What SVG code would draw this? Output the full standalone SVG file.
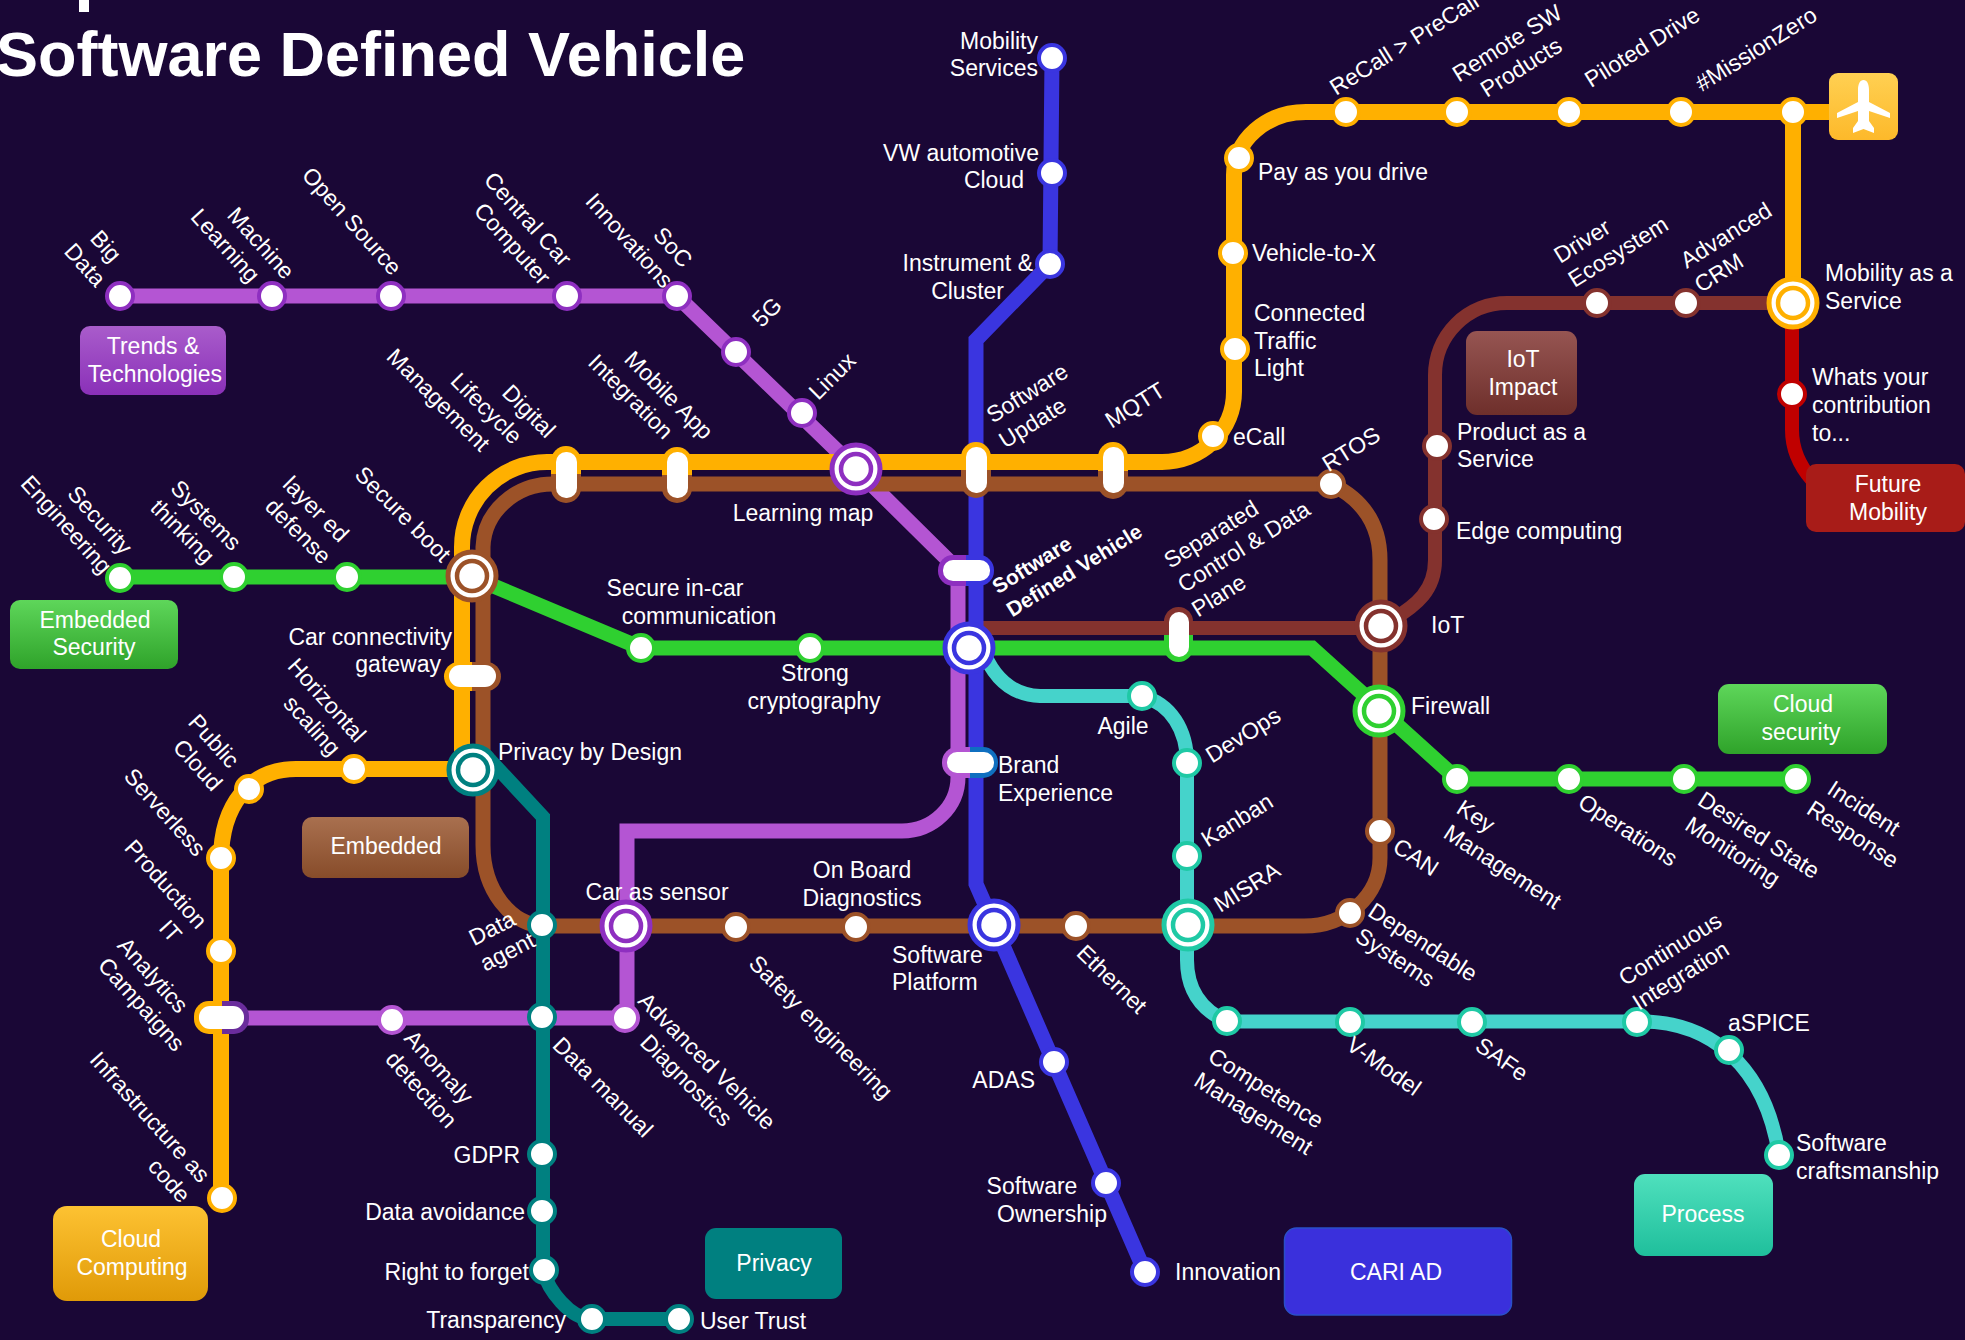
<svg xmlns="http://www.w3.org/2000/svg" width="1965" height="1340" viewBox="0 0 1965 1340">
<style>
text{font-family:"Liberation Sans",Arial,sans-serif;font-size:23px;fill:#fff}
.m{text-anchor:middle}.e{text-anchor:end}
.title{font-size:63px;font-weight:700}
.b{font-weight:700;font-size:21px}
.ln{fill:none;stroke-linejoin:miter}
.s{fill:#fff;stroke-width:4}
.o1{stroke-width:5;fill:#fff}.o2{stroke-width:4.5;fill:#fff}
.w{fill:#fff}
.pur{stroke:#8e2fc0}.pl{stroke:#b455d3}.blu{stroke:#3a35e0}.ora{stroke:#ffb000}.bro{stroke:#9c5228}.dbr{stroke:#84322e}.gre{stroke:#2fd030}.tea{stroke:#008080}.tur{stroke:#1fc9a5}.red{stroke:#c00000}.tl{stroke:#45d3cb}
</style>
<defs>
<linearGradient id="gPur" x1="0" y1="0" x2="0" y2="1"><stop offset="0" stop-color="#a95ccb"/><stop offset="1" stop-color="#8a30b8"/></linearGradient>
<linearGradient id="gGre" x1="0" y1="0" x2="0" y2="1"><stop offset="0" stop-color="#5ed65a"/><stop offset="1" stop-color="#2fa32a"/></linearGradient>
<linearGradient id="gBro" x1="0" y1="0" x2="0" y2="1"><stop offset="0" stop-color="#a9704f"/><stop offset="1" stop-color="#874c2a"/></linearGradient>
<linearGradient id="gOra" x1="0" y1="0" x2="0" y2="1"><stop offset="0" stop-color="#fdc232"/><stop offset="1" stop-color="#e09a08"/></linearGradient>
<linearGradient id="gTur" x1="0" y1="0" x2="0" y2="1"><stop offset="0" stop-color="#4fe0bd"/><stop offset="1" stop-color="#1fbf9c"/></linearGradient>
<linearGradient id="gDbr" x1="0" y1="0" x2="0" y2="1"><stop offset="0" stop-color="#965552"/><stop offset="1" stop-color="#6e2f2b"/></linearGradient>
<linearGradient id="gPla" x1="0" y1="0" x2="0" y2="1"><stop offset="0" stop-color="#ffd052"/><stop offset="1" stop-color="#fdb92a"/></linearGradient>
<linearGradient id="pOB" x1="0" y1="0" x2="0" y2="1"><stop offset=".5" stop-color="#ffb000"/><stop offset=".5" stop-color="#9c5228"/></linearGradient>
<linearGradient id="pDG" x1="0" y1="0" x2="0" y2="1"><stop offset=".5" stop-color="#84322e"/><stop offset=".5" stop-color="#2fd030"/></linearGradient>
<linearGradient id="pPB" x1="0" y1="0" x2="1" y2="0"><stop offset=".5" stop-color="#8e2fc0"/><stop offset=".5" stop-color="#3a35e0"/></linearGradient>
<linearGradient id="pLB" x1="0" y1="0" x2="1" y2="0"><stop offset=".5" stop-color="#b455d3"/><stop offset=".5" stop-color="#0f6fc0"/></linearGradient>
<linearGradient id="pHB" x1="0" y1="0" x2="1" y2="0"><stop offset=".5" stop-color="#ffb000"/><stop offset=".5" stop-color="#9c5228"/></linearGradient>
<linearGradient id="pHP" x1="0" y1="0" x2="1" y2="0"><stop offset=".5" stop-color="#ffb000"/><stop offset=".5" stop-color="#6a2c9c"/></linearGradient>
</defs>
<rect width="1965" height="1340" fill="#1a0736"/>
<rect x="79" y="0" width="10" height="12" fill="#fff"/>
<text class="title" x="-4" y="76">Software Defined Vehicle</text>

<g id="connectors">
<path class="ln tea" stroke-width="14" d="M490,760L543,817V1270C548,1290 570,1319 592,1319H679"/>
<path class="ln red" stroke-width="14" d="M1792,303V430C1792,450 1799,465 1812,480"/>
<path class="ln dbr" stroke-width="14" d="M1793,303H1507A72 72 0 0 0 1435,375V560C1435,590 1417,605 1392,620"/>
<path class="ln dbr" stroke-width="14" d="M1381,628H975"/>
<path class="ln pl" stroke-width="15" d="M120,296H677L856,469L958,570V777A56 54 0 0 1 902,831H627V1018H222"/>
<path class="ln blu" stroke-width="15" d="M1052,58L1050,264L976,340V884L994,925L1145,1272"/>
<path class="ln bro" stroke-width="15" d="M1331,484H553A70 65 0 0 0 483,547V845A62 81 0 0 0 545,926H1304A76 68 0 0 0 1380,858V560C1380,525 1364,500 1331,484"/>
<path class="ln tl" stroke-width="14" d="M982,648C992,675 1010,695 1040,696H1142C1171,704 1187,730 1187,763V960C1187,990 1201,1010 1227,1021.5H1642C1710,1022 1765,1065 1779,1155"/>
<path class="ln ora" stroke-width="16" d="M462,770V547A85 85 0 0 1 547,462H1162A72 70 0 0 0 1234,392V175A72 63 0 0 1 1306,112H1829"/>
<path class="ln ora" stroke-width="16" d="M1793,112V302"/>
<path class="ln ora" stroke-width="16" d="M473,769H296C250,769 221,805 221,860V1198"/>
<path class="ln gre" stroke-width="15" d="M120,577H472L641,648H1312L1457,779H1796"/>
</g>

<g id="box-trends"><rect x="80" y="326" width="146" height="69" rx="10" fill="url(#gPur)"/><text class="m" x="153" y="354">Trends &amp;</text><text class="m" x="155" y="382">Technologies</text></g>
<g id="box-embedded-security"><rect x="10" y="600" width="168" height="69" rx="10" fill="url(#gGre)"/><text class="m" x="95" y="628">Embedded</text><text class="m" x="94" y="655">Security</text></g>
<g id="box-embedded"><rect x="302" y="817" width="167" height="61" rx="10" fill="url(#gBro)"/><text class="m" x="386" y="854">Embedded</text></g>
<g id="box-cloud-computing"><rect x="53" y="1206" width="155" height="95" rx="14" fill="url(#gOra)"/><text class="m" x="131" y="1247">Cloud</text><text class="m" x="132" y="1275">Computing</text></g>
<g id="box-privacy"><rect x="705" y="1228" width="137" height="71" rx="11" fill="#008080"/><text class="m" x="774" y="1271">Privacy</text></g>
<g id="box-cari-ad"><rect x="1284.5" y="1228" width="227" height="87" rx="12" fill="#3a30dc" stroke="#2a4fc8" stroke-width="1.5"/><text class="m" x="1396" y="1280">CARI AD</text></g>
<g id="box-process"><rect x="1634" y="1174" width="139" height="82" rx="11" fill="url(#gTur)"/><text class="m" x="1703" y="1222">Process</text></g>
<g id="box-cloud-security"><rect x="1718" y="684" width="169" height="70" rx="11" fill="url(#gGre)"/><text class="m" x="1803" y="712">Cloud</text><text class="m" x="1801" y="740">security</text></g>
<g id="box-iot-impact"><rect x="1466" y="331" width="111" height="84" rx="11" fill="url(#gDbr)"/><text class="m" x="1523" y="367">IoT</text><text class="m" x="1523" y="395">Impact</text></g>
<g id="box-future-mobility"><rect x="1806" y="464" width="159" height="68" rx="10" fill="#a81c18"/><text class="m" x="1888" y="492">Future</text><text class="m" x="1888" y="520">Mobility</text></g>
<g id="box-plane"><rect x="1829" y="73" width="69" height="67" rx="9" fill="url(#gPla)"/><path class="w" d="M1863.5,80C1867,80 1869,84 1869,90V102L1890,113V118L1869,111V121L1874,128V133L1863.5,129L1853,133V128L1858,121V111L1837,118V113L1858,102V90C1858,84 1860,80 1863.5,80Z"/></g>

<g id="n-big-data"><circle class="s pur" cx="120" cy="296" r="13"/><text class="m" transform="translate(106,246) rotate(48)"><tspan x="0" y="8">Big</tspan><tspan x="0" y="36">Data</tspan></text></g>
<g id="n-machine-learning"><circle class="s pur" cx="272" cy="296" r="13"/><text class="m" transform="translate(261,243) rotate(48)"><tspan x="0" y="8">Machine</tspan><tspan x="-22" y="36">Learning</tspan></text></g>
<g id="n-open-source"><circle class="s pur" cx="391" cy="296" r="13"/><text class="m" transform="translate(352,221) rotate(48)" y="8">Open Source</text></g>
<g id="n-central-car"><circle class="s pur" cx="567" cy="296" r="13"/><text class="m" transform="translate(528,219) rotate(48)"><tspan x="0" y="8">Central Car</tspan><tspan x="8" y="36">Computer</tspan></text></g>
<g id="n-soc"><circle class="s pur" cx="677" cy="296" r="13"/><text class="m" transform="translate(673,247) rotate(48)"><tspan x="0" y="8">SoC</tspan><tspan x="-34" y="36">Innovations</tspan></text></g>
<g id="n-5g"><circle class="s pur" cx="736" cy="352" r="13"/><text class="m" transform="translate(767,312) rotate(-45)" y="8">5G</text></g>
<g id="n-linux"><circle class="s pur" cx="802" cy="413" r="13"/><text class="m" transform="translate(832,376) rotate(-45)" y="8">Linux</text></g>
<g id="n-learning-map"><circle class="o1 pur" cx="856" cy="469" r="24"/><circle class="o2 pur" cx="856" cy="469" r="15"/><text class="m" x="803" y="521">Learning map</text></g>

<g id="n-digital"><rect x="551" y="446" width="30" height="57" rx="15" fill="url(#pOB)"/><rect class="w" x="556" y="452" width="21" height="46" rx="10"/><text class="m" transform="translate(529,411) rotate(45)"><tspan x="0" y="8">Digital</tspan><tspan x="-32" y="36">Lifecycle</tspan><tspan x="-72" y="64">Management</tspan></text></g>
<g id="n-mobile-app"><rect x="662" y="447" width="30" height="56" rx="15" fill="url(#pOB)"/><rect class="w" x="667" y="452" width="21" height="46" rx="10"/><text class="m" transform="translate(669,395) rotate(45)"><tspan x="0" y="8">Mobile App</tspan><tspan x="-26" y="36">Integration</tspan></text></g>
<g id="n-software-update"><rect x="961" y="442" width="30" height="56" rx="15" fill="url(#pOB)"/><rect class="w" x="966" y="447" width="21" height="46" rx="10"/><text class="m" transform="translate(1027,393) rotate(-32)"><tspan x="0" y="8">Software</tspan><tspan x="-11" y="36">Update</tspan></text></g>
<g id="n-mqtt"><rect x="1098" y="442" width="30" height="57" rx="15" fill="url(#pOB)"/><rect class="w" x="1103" y="447" width="21" height="46" rx="10"/><text class="m" transform="translate(1135,405) rotate(-32)" y="8">MQTT</text></g>
<g id="n-ecall"><circle class="s ora" cx="1213" cy="436" r="13"/><text x="1233" y="445">eCall</text></g>
<g id="n-traffic-light"><circle class="s ora" cx="1235" cy="349" r="13"/><text><tspan x="1254" y="321">Connected</tspan><tspan x="1254" y="349">Traffic</tspan><tspan x="1254" y="376">Light</tspan></text></g>
<g id="n-v2x"><circle class="s ora" cx="1233" cy="253" r="13"/><text x="1252" y="261">Vehicle-to-X</text></g>
<g id="n-payg"><circle class="s ora" cx="1239" cy="158" r="13"/><text x="1258" y="180">Pay as you drive</text></g>
<g id="n-recall"><circle class="s ora" cx="1346" cy="112" r="13"/><text class="m" transform="translate(1404,44) rotate(-32)" y="8">ReCall &gt; PreCall</text></g>
<g id="n-remote-sw"><circle class="s ora" cx="1457" cy="112" r="13"/><text class="m" transform="translate(1507,43) rotate(-32)"><tspan x="0" y="8">Remote SW</tspan><tspan x="-1" y="36">Products</tspan></text></g>
<g id="n-piloted"><circle class="s ora" cx="1569" cy="112" r="13"/><text class="m" transform="translate(1642,47) rotate(-32)" y="8">Piloted Drive</text></g>
<g id="n-missionzero"><circle class="s ora" cx="1681" cy="112" r="13"/><text class="m" transform="translate(1756,49) rotate(-32)" y="8">#MissionZero</text></g>
<g id="n-plane-stop"><circle class="s ora" cx="1793" cy="112" r="13"/></g>
<g id="n-maas"><circle class="o1 ora" cx="1793" cy="303" r="24"/><circle class="o2 ora" cx="1793" cy="303" r="15"/><text><tspan x="1825" y="281">Mobility as a</tspan><tspan x="1825" y="309">Service</tspan></text></g>
<g id="n-whats-your"><circle class="s red" cx="1792" cy="394" r="13"/><text><tspan x="1812" y="385">Whats your</tspan><tspan x="1812" y="413">contribution</tspan><tspan x="1812" y="441">to...</tspan></text></g>
<g id="n-driver-eco"><circle class="s dbr" cx="1597" cy="303" r="13"/><text class="m" transform="translate(1582,241) rotate(-32)"><tspan x="0" y="8">Driver</tspan><tspan x="25" y="36">Ecosystem</tspan></text></g>
<g id="n-adv-crm"><circle class="s dbr" cx="1686" cy="303" r="13"/><text class="m" transform="translate(1726,235) rotate(-32)"><tspan x="0" y="8">Advanced</tspan><tspan x="-26" y="36">CRM</tspan></text></g>
<g id="n-paas"><circle class="s dbr" cx="1437" cy="446" r="13"/><text><tspan x="1457" y="440">Product as a</tspan><tspan x="1457" y="467">Service</tspan></text></g>
<g id="n-edge"><circle class="s dbr" cx="1434" cy="519" r="13"/><text x="1456" y="539">Edge computing</text></g>
<g id="n-rtos"><circle class="s bro" cx="1331" cy="484" r="13"/><text class="m" transform="translate(1351,449) rotate(-32)" y="8">RTOS</text></g>
<g id="n-separated"><rect x="1164" y="607" width="29" height="55" rx="14.5" fill="url(#pDG)"/><rect class="w" x="1169" y="612" width="20" height="45" rx="10"/><text class="m" transform="translate(1211,534) rotate(-32)"><tspan x="0" y="8">Separated</tspan><tspan x="21" y="36">Control &amp; Data</tspan><tspan x="-26" y="64">Plane</tspan></text></g>
<g id="n-iot"><circle class="o1 dbr" cx="1381" cy="626" r="24"/><circle class="o2 dbr" cx="1381" cy="626" r="15"/><text x="1431" y="633">IoT</text></g>
<g id="n-firewall"><circle class="o1 gre" cx="1379" cy="711" r="24"/><circle class="o2 gre" cx="1379" cy="711" r="15"/><text x="1411" y="714">Firewall</text></g>

<g id="n-secure-eng"><circle class="s gre" cx="120" cy="578" r="13"/><text class="m" transform="translate(100,520) rotate(48)"><tspan x="0" y="8">Security</tspan><tspan x="-19" y="36">Engineering</tspan></text></g>
<g id="n-systems"><circle class="s gre" cx="234" cy="577" r="13"/><text class="m" transform="translate(206,515) rotate(45)"><tspan x="0" y="8">Systems</tspan><tspan x="-5" y="36">thinking</tspan></text></g>
<g id="n-layered"><circle class="s gre" cx="347" cy="577" r="13"/><text class="m" transform="translate(316,509) rotate(45)"><tspan x="0" y="8">layer ed</tspan><tspan x="3" y="36">defense</tspan></text></g>
<g id="n-secure-boot"><circle class="o1 bro" cx="472" cy="576" r="24"/><circle class="o2 bro" cx="472" cy="576" r="15"/><text class="m" transform="translate(403,514) rotate(45)" y="8">Secure boot</text></g>
<g id="n-secure-comm"><circle class="s gre" cx="641" cy="648" r="13"/><text class="m"><tspan x="675" y="596">Secure in-car</tspan><tspan x="699" y="624">communication</tspan></text></g>
<g id="n-strong"><circle class="s gre" cx="810" cy="648" r="13"/><text class="m"><tspan x="815" y="681">Strong</tspan><tspan x="814" y="709">cryptography</tspan></text></g>
<g id="n-center"><circle class="o1 blu" cx="969" cy="648" r="24"/><circle class="o2 blu" cx="969" cy="648" r="15"/></g>
<g id="n-sdv"><rect x="938" y="555" width="56" height="31" rx="15" fill="url(#pPB)"/><rect class="w" x="943" y="560" width="47" height="21" rx="10"/><text class="m b" transform="translate(1032,565) rotate(-32)"><tspan x="0" y="7">Software</tspan><tspan x="33" y="34">Defined Vehicle</tspan></text></g>
<g id="n-brand"><rect x="942" y="747" width="56" height="31" rx="15" fill="url(#pLB)"/><rect class="w" x="947" y="752" width="47" height="21" rx="10"/><text><tspan x="998" y="773">Brand</tspan><tspan x="998" y="801">Experience</tspan></text></g>
<g id="n-car-conn"><rect x="444" y="662" width="57" height="29" rx="14.5" fill="url(#pHB)"/><rect class="w" x="449" y="665" width="47" height="22" rx="11"/><text class="e"><tspan x="452" y="645">Car connectivity</tspan><tspan x="441" y="672">gateway</tspan></text></g>
<g id="n-privacy-design"><circle class="o1 tea" cx="473" cy="770" r="24"/><circle class="o2 tea" cx="473" cy="770" r="15"/><text x="498" y="760">Privacy by Design</text></g>
<g id="n-horizontal"><circle class="s ora" cx="354" cy="769" r="13"/><text class="m" transform="translate(327,700) rotate(48)"><tspan x="0" y="8">Horizontal</tspan><tspan x="9" y="36">scaling</tspan></text></g>
<g id="n-public-cloud"><circle class="s ora" cx="249" cy="789" r="13"/><text class="m" transform="translate(214,741) rotate(48)"><tspan x="0" y="8">Public</tspan><tspan x="7" y="36">Cloud</tspan></text></g>
<g id="n-serverless"><circle class="s ora" cx="221" cy="858" r="13"/><text class="m" transform="translate(165,812) rotate(48)" y="8">Serverless</text></g>
<g id="n-production"><circle class="s ora" cx="221" cy="951" r="13"/><text class="m" transform="translate(166,884) rotate(48)"><tspan x="0" y="8">Production</tspan><tspan x="38" y="36">IT</tspan></text></g>
<g id="n-analytics"><rect x="194" y="1001" width="55" height="33" rx="15" fill="url(#pHP)"/><rect class="w" x="199" y="1006" width="45" height="23" rx="11"/><text class="m" transform="translate(153,975) rotate(48)"><tspan x="0" y="8">Analytics</tspan><tspan x="14" y="36">Campaigns</tspan></text></g>
<g id="n-infrastructure"><circle class="s ora" cx="222" cy="1198" r="13"/><text class="m" transform="translate(150,1117) rotate(48)"><tspan x="0" y="8">Infrastructure as</tspan><tspan x="60" y="36">code</tspan></text></g>
<g id="n-anomaly"><circle class="s pl" cx="392" cy="1020" r="13"/><text class="m" transform="translate(439,1067) rotate(48)"><tspan x="0" y="8">Anomaly</tspan><tspan x="5" y="36">detection</tspan></text></g>
<g id="n-data-manual"><circle class="s tea" cx="542" cy="1017" r="13"/><text class="m" transform="translate(603,1087) rotate(45)" y="8">Data manual</text></g>
<g id="n-adv-vehicle"><circle class="s pl" cx="625" cy="1018" r="13"/><text class="m" transform="translate(707,1061) rotate(45)"><tspan x="0" y="8">Advanced Vehicle</tspan><tspan x="-1" y="36">Diagnostics</tspan></text></g>
<g id="n-data-agent"><circle class="s tea" cx="542" cy="925" r="13"/><text class="m" transform="translate(492,928) rotate(-27)"><tspan x="0" y="8">Data</tspan><tspan x="3" y="36">agent</tspan></text></g>
<g id="n-car-sensor"><circle class="o1 pur" cx="626" cy="926" r="24"/><circle class="o2 pur" cx="626" cy="926" r="15"/><text class="m" x="657" y="900">Car as sensor</text></g>
<g id="n-safety"><circle class="s bro" cx="736" cy="927" r="13"/><text class="m" transform="translate(821,1027) rotate(45)" y="8">Safety engineering</text></g>
<g id="n-obd"><circle class="s bro" cx="856" cy="927" r="13"/><text class="m"><tspan x="862" y="878">On Board</tspan><tspan x="862" y="906">Diagnostics</tspan></text></g>
<g id="n-sw-platform"><circle class="o1 blu" cx="994" cy="925" r="24"/><circle class="o2 blu" cx="994" cy="925" r="15"/><text><tspan x="892" y="963">Software</tspan><tspan x="892" y="990">Platform</tspan></text></g>
<g id="n-ethernet"><circle class="s bro" cx="1076" cy="926" r="13"/><text class="m" transform="translate(1112,979) rotate(44)" y="8">Ethernet</text></g>
<g id="n-misra"><circle class="o1 tur" cx="1188" cy="925" r="24"/><circle class="o2 tur" cx="1188" cy="925" r="15"/><text class="m" transform="translate(1247,887) rotate(-32)" y="8">MISRA</text></g>
<g id="n-dependable"><circle class="s bro" cx="1350" cy="913" r="13"/><text class="m" transform="translate(1423,942) rotate(33)"><tspan x="0" y="8">Dependable</tspan><tspan x="-15" y="36">Systems</tspan></text></g>
<g id="n-can"><circle class="s bro" cx="1380" cy="831" r="13"/><text class="m" transform="translate(1416,857) rotate(33)" y="8">CAN</text></g>
<g id="n-key-mgmt"><circle class="s gre" cx="1457" cy="779" r="13"/><text class="m" transform="translate(1476,816) rotate(33)"><tspan x="0" y="8">Key</tspan><tspan x="50" y="36">Management</tspan></text></g>
<g id="n-operations"><circle class="s gre" cx="1569" cy="779" r="13"/><text class="m" transform="translate(1628,830) rotate(33)" y="8">Operations</text></g>
<g id="n-desired"><circle class="s gre" cx="1684" cy="779" r="13"/><text class="m" transform="translate(1759,835) rotate(33)"><tspan x="0" y="8">Desired State</tspan><tspan x="-13" y="36">Monitoring</tspan></text></g>
<g id="n-incident"><circle class="s gre" cx="1796" cy="779" r="13"/><text class="m" transform="translate(1864,808) rotate(33)"><tspan x="0" y="8">Incident</tspan><tspan x="5" y="36">Response</tspan></text></g>

<g id="n-mobility-services"><circle class="s blu" cx="1052" cy="58" r="13"/><text class="e"><tspan x="1038" y="49">Mobility</tspan><tspan x="1038" y="76">Services</tspan></text></g>
<g id="n-vw-cloud"><circle class="s blu" cx="1052" cy="173" r="13"/><text class="e"><tspan x="1039" y="161">VW automotive</tspan><tspan x="1024" y="188">Cloud</tspan></text></g>
<g id="n-instrument"><circle class="s blu" cx="1050" cy="264" r="13"/><text class="e"><tspan x="1033" y="271">Instrument &amp;</tspan><tspan x="1004" y="299">Cluster</tspan></text></g>
<g id="n-adas"><circle class="s blu" cx="1054" cy="1062" r="13"/><text class="e" x="1035" y="1088">ADAS</text></g>
<g id="n-sw-ownership"><circle class="s blu" cx="1106" cy="1183" r="13"/><text class="m"><tspan x="1032" y="1194">Software</tspan><tspan x="1052" y="1222">Ownership</tspan></text></g>
<g id="n-innovation"><circle class="s blu" cx="1145" cy="1272" r="13"/><text x="1175" y="1280">Innovation</text></g>

<g id="n-gdpr"><circle class="s tea" cx="542" cy="1154" r="13"/><text class="e" x="520" y="1163">GDPR</text></g>
<g id="n-data-avoid"><circle class="s tea" cx="542" cy="1211" r="13"/><text class="e" x="525" y="1220">Data avoidance</text></g>
<g id="n-right-forget"><circle class="s tea" cx="544" cy="1270" r="13"/><text class="e" x="529" y="1280">Right to forget</text></g>
<g id="n-transparency"><circle class="s tea" cx="592" cy="1319" r="13"/><text class="e" x="566" y="1328">Transparency</text></g>
<g id="n-user-trust"><circle class="s tea" cx="679" cy="1319" r="13"/><text x="700" y="1329">User Trust</text></g>

<g id="n-agile"><circle class="s tur" cx="1142" cy="696" r="13"/><text class="m" x="1123" y="734">Agile</text></g>
<g id="n-devops"><circle class="s tur" cx="1187" cy="763" r="13"/><text class="m" transform="translate(1243,735) rotate(-32)" y="8">DevOps</text></g>
<g id="n-kanban"><circle class="s tur" cx="1187" cy="856" r="13"/><text class="m" transform="translate(1237,820) rotate(-32)" y="8">Kanban</text></g>
<g id="n-competence"><circle class="s tur" cx="1227" cy="1021" r="13"/><text class="m" transform="translate(1266,1088) rotate(32)"><tspan x="0" y="8">Competence</tspan><tspan x="3" y="36">Management</tspan></text></g>
<g id="n-vmodel"><circle class="s tur" cx="1350" cy="1022" r="13"/><text class="m" transform="translate(1384,1066) rotate(35)" y="8">V-Model</text></g>
<g id="n-safe"><circle class="s tur" cx="1472" cy="1022" r="13"/><text class="m" transform="translate(1502,1059) rotate(35)" y="8">SAFe</text></g>
<g id="n-ci"><circle class="s tur" cx="1637" cy="1022" r="13"/><text class="m" transform="translate(1670,949) rotate(-32)"><tspan x="0" y="8">Continuous</tspan><tspan x="-5" y="36">Integration</tspan></text></g>
<g id="n-aspice"><circle class="s tur" cx="1729" cy="1050" r="13"/><text x="1728" y="1031">aSPICE</text></g>
<g id="n-craftsmanship"><circle class="s tur" cx="1779" cy="1155" r="13"/><text><tspan x="1796" y="1151">Software</tspan><tspan x="1796" y="1179">craftsmanship</tspan></text></g>
</svg>
